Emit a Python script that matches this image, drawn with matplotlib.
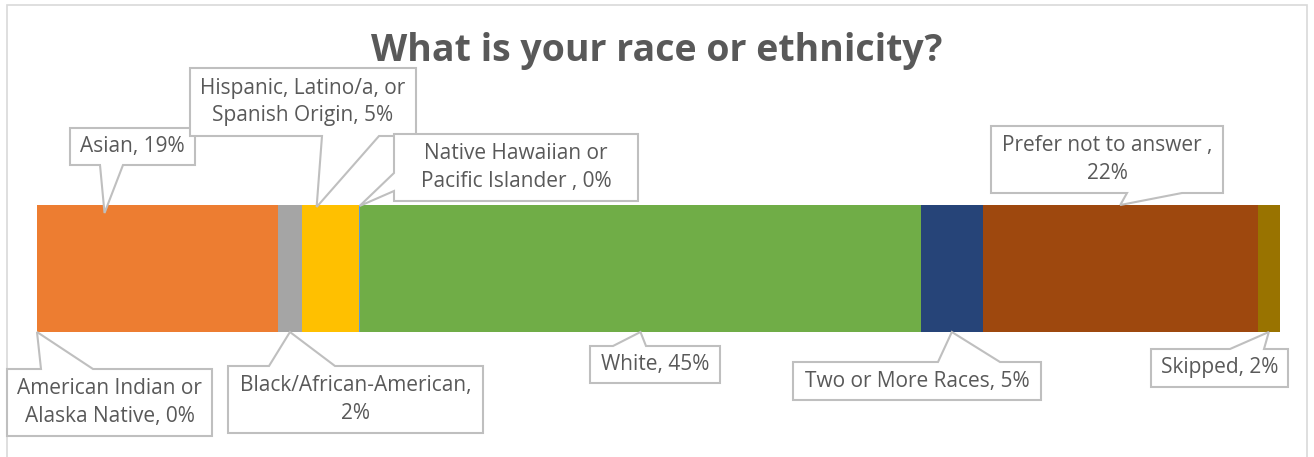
import matplotlib
matplotlib.use("Agg")
import matplotlib.pyplot as plt
from matplotlib.patches import Polygon, Rectangle

W, H = 1314, 457

# --- data -------------------------------------------------------------
categories = [
    "American Indian or\nAlaska Native",
    "Asian",
    "Black/African-American",
    "Hispanic, Latino/a, or\nSpanish Origin",
    "Native Hawaiian or\nPacific Islander ",
    "White",
    "Two or More Races",
    "Prefer not to answer ",
    "Skipped",
]
values = [0.0, 19.4, 1.9, 4.6, 0.1, 45.1, 5.0, 22.1, 1.8]
colors = ["#4472C4", "#ED7D31", "#A5A5A5", "#FFC000", "#5B9BD5",
          "#70AD47", "#264478", "#9E480E", "#997300"]
separators = [", ", ", ", ",\n", ", ", ", ", ", ", ", ", ",\n", ", "]

# --- callout layout (image pixels, y from top) --------------------------
# box (x0, y0, x1, y1), side the tail leaves from, tail base, tip position in segment, tip offset px
callouts = [
    ((7, 369, 212, 436), "top", (41, 93), 0.5, 0),
    ((70, 128, 195, 165), "bottom", (100, 123), 0.28, 8),
    ((228, 366, 483, 433), "top", (269, 335), 0.5, 0),
    ((190, 68, 416, 136), "bottom", (322, 379), 0.26, 2),
    ((394, 134, 638, 201), "left", (173, 191), 0.5, 1),
    ((590, 346, 720, 383), "top", (613, 646), 0.5, 0),
    ((793, 362, 1041, 400), "top", (938, 1000), 0.5, 0),
    ((991, 126, 1223, 193), "bottom", (1127, 1182), 0.5, 0),
    ((1151, 349, 1288, 387), "top", (1230, 1264), 0.5, 0),
]

TEXT = "#595959"
EDGE = "#BFBFBF"
FONT = "Open Sans"


def fp(x, y):
    """image pixel -> figure fraction"""
    return (x / W, 1 - y / H)


fig = plt.figure(figsize=(W / 100, H / 100), dpi=100)
fig.patch.set_facecolor("white")

# chart frame
fig.add_artist(Rectangle(fp(7, 470), 1300 / W, 465 / H, transform=fig.transFigure,
                         facecolor="none", edgecolor="#D9D9D9", lw=1.2))

ax = fig.add_axes([37 / W, 1 - 332 / H, 1243 / W, 127 / H])
starts = [sum(values[:i]) for i in range(len(values))]
ax.barh(0, values, left=starts, height=1.0, color=colors, linewidth=0)
ax.set_xlim(0, sum(values))
ax.set_ylim(-0.5, 0.5)
ax.axis("off")

fig.text(0.5, fp(0, 51)[1], "What is your race or ethnicity?", ha="center", va="center",
         fontsize=27, fontweight="bold", color=TEXT, family=FONT)

for cat, val, start, sep, (box, side, base, frac, dy) in zip(
        categories, values, starts, separators, callouts):
    x0, y0, x1, y1 = box
    yd = -0.5 if side == "top" else 0.5
    tx, ty = ax.transData.transform((start + frac * val, yd))
    tip = (tx / W, (ty - dy) / H) if side != "top" else (tx / W, (ty + dy) / H)
    a, b = base
    if side == "top":
        pts = [fp(x0, y0), fp(a, y0), tip, fp(b, y0), fp(x1, y0), fp(x1, y1), fp(x0, y1)]
    elif side == "bottom":
        pts = [fp(x0, y0), fp(x1, y0), fp(x1, y1), fp(b, y1), tip, fp(a, y1), fp(x0, y1)]
    else:
        pts = [fp(x0, y0), fp(x1, y0), fp(x1, y1), fp(x0, y1), fp(x0, b), tip, fp(x0, a)]
    fig.add_artist(Polygon(pts, closed=True, transform=fig.transFigure,
                           facecolor="white", edgecolor=EDGE, lw=1.5, joinstyle="miter"))
    label = f"{cat}{sep}{val:.0f}%"
    cx, cy = fp((x0 + x1) / 2, (y0 + y1) / 2)
    fig.text(cx, cy, label, ha="center", va="center", fontsize=15, color=TEXT,
             family=FONT, linespacing=1.4, zorder=5)

fig.savefig("out.png", dpi=100)
